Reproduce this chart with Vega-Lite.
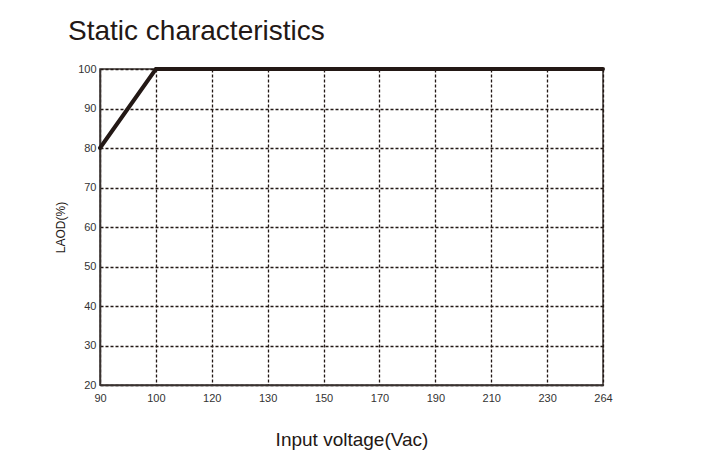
{
  "$schema": "https://vega.github.io/schema/vega-lite/v6.json",
  "autosize": {"type": "none"},
  "width": 503,
  "height": 316,
  "padding": {"left": 100, "top": 69, "right": 108, "bottom": 74},
  "background": "white",
  "title": {
    "text": "Static characteristics",
    "anchor": "start",
    "frame": "group",
    "dx": -32,
    "offset": 15,
    "fontSize": 28,
    "fontWeight": "normal",
    "font": "Liberation Sans",
    "color": "#231815"
  },
  "data": {
    "values": [
      {"voltage": "90", "load": 80},
      {"voltage": "100", "load": 100},
      {"voltage": "264", "load": 100}
    ]
  },
  "mark": {"type": "line", "color": "#231815", "strokeWidth": 4, "strokeCap": "round", "clip": false},
  "encoding": {
    "x": {
      "field": "voltage",
      "type": "ordinal",
      "sort": null,
      "scale": {"type": "point", "padding": 0, "domain": ["90", "100", "120", "130", "150", "170", "190", "210", "230", "264"]},
      "axis": {
        "title": "Input voltage(Vac)",
        "labelAngle": 0,
        "labelFontSize": 11,
        "labelFont": "Liberation Sans",
        "labelColor": "#333",
        "labelPadding": 7,
        "titleFontSize": 19,
        "titleFont": "Liberation Sans",
        "titleFontWeight": "normal",
        "titleColor": "#231815",
        "titlePadding": 27,
        "grid": true,
        "gridColor": "#231815",
        "gridDash": [3, 2],
        "gridWidth": 1.3,
        "ticks": false,
        "domainColor": "#3a3330",
        "domainWidth": 1.5
      }
    },
    "y": {
      "field": "load",
      "type": "quantitative",
      "scale": {"domain": [20, 100], "nice": false, "zero": false},
      "axis": {
        "title": "LAOD(%)",
        "values": [20, 30, 40, 50, 60, 70, 80, 90, 100],
        "labelFontSize": 11,
        "labelFont": "Liberation Sans",
        "labelColor": "#333",
        "labelPadding": 4,
        "titleFontSize": 12,
        "titleFont": "Liberation Sans",
        "titleFontWeight": "normal",
        "titleColor": "#231815",
        "titlePadding": 10,
        "grid": true,
        "gridColor": "#231815",
        "gridDash": [3, 2],
        "gridWidth": 1.3,
        "ticks": false,
        "domainColor": "#3a3330",
        "domainWidth": 1.5
      }
    }
  },
  "config": {
    "view": {"stroke": "#3a3330", "strokeWidth": 1.5}
  }
}
